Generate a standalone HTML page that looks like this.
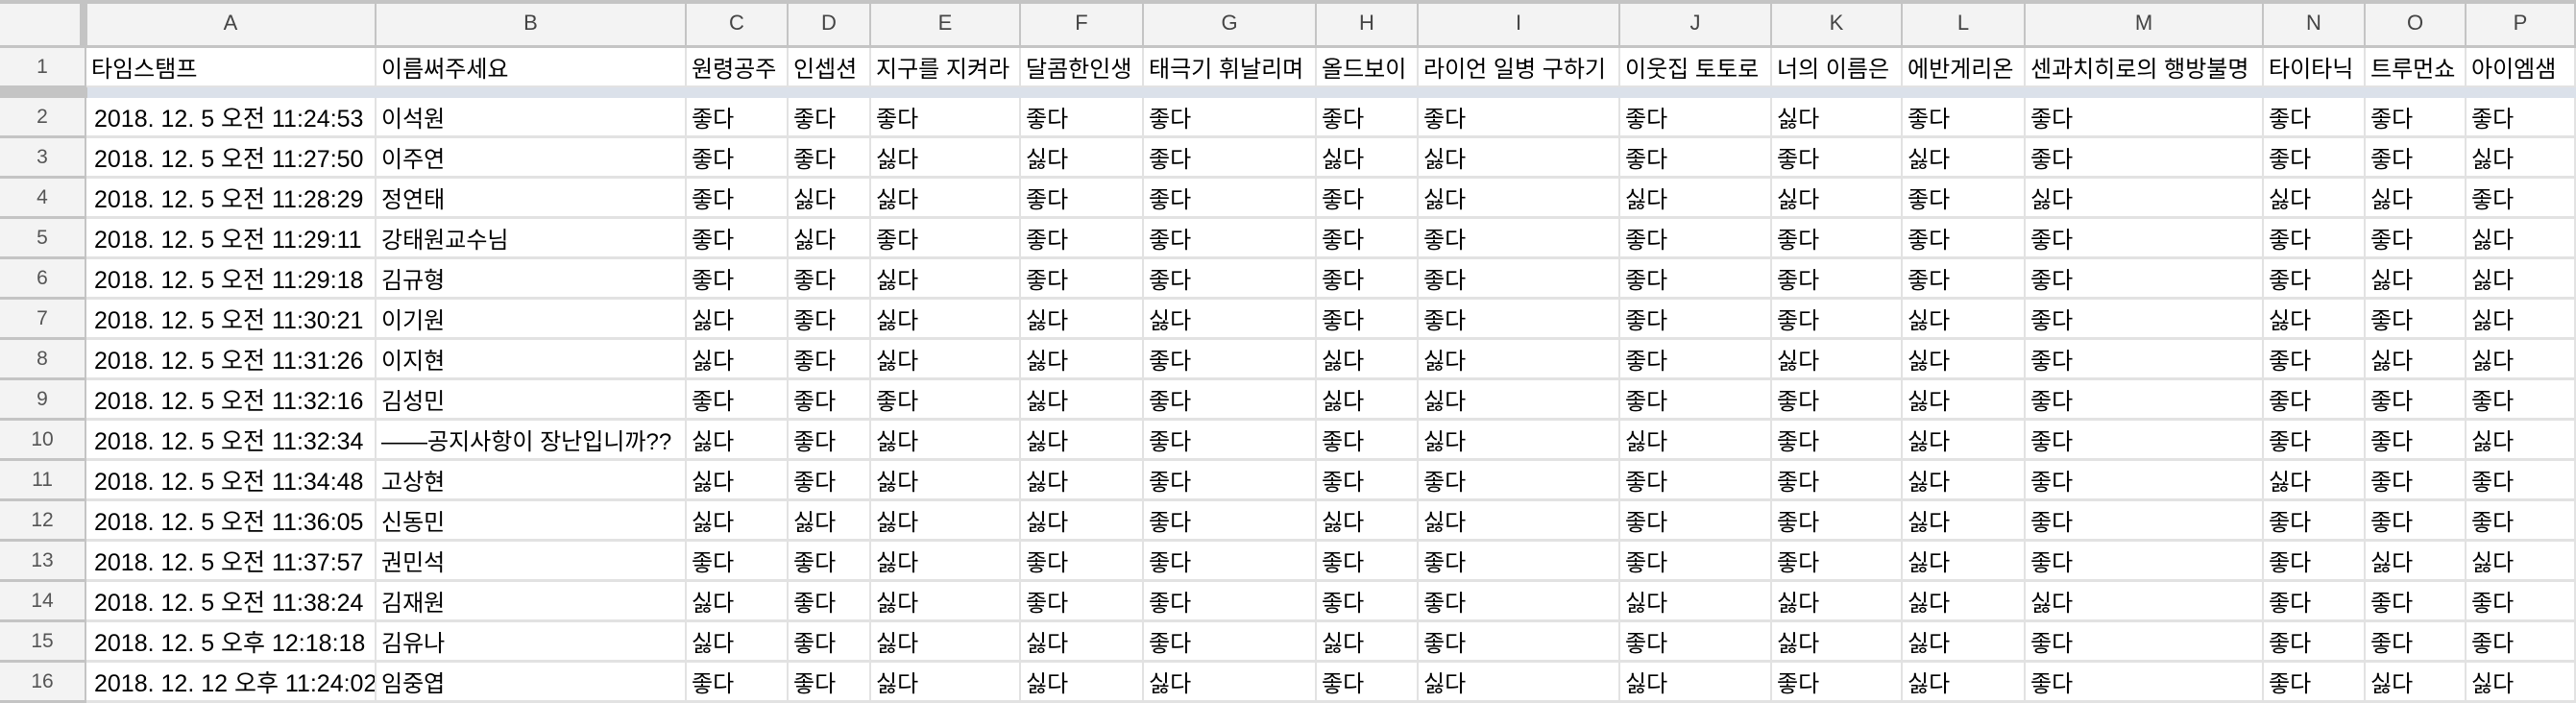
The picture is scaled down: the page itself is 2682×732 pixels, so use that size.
<!DOCTYPE html>
<html><head><meta charset="utf-8">
<style>
body{margin:0;width:2682px;height:732px;overflow:hidden;background:#fff;font-family:"Liberation Sans","Noto Sans CJK KR",sans-serif;}
#sheet{position:absolute;left:0;top:0;width:2682px;height:732px;}
.c{position:absolute;box-sizing:border-box;border-right:2px solid #e2e2e2;border-bottom:3px solid #e2e2e2;font-size:24px;color:#000;white-space:nowrap;overflow:hidden;padding:0 7px;display:flex;align-items:center;}
.h{background:#f3f3f3;color:#444;font-size:22px;justify-content:center;border-color:#c4c4c4;}
.r{background:#f3f3f3;color:#555;font-size:21px;justify-content:center;border-color:#c4c4c4;}
</style></head><body>
<div id="sheet"></div>
<script>
const colLetters=["A","B","C","D","E","F","G","H","I","J","K","L","M","N","O","P"];
const headers=["타임스탬프","이름써주세요","원령공주","인셉션","지구를 지켜라","달콤한인생","태극기 휘날리며","올드보이","라이언 일병 구하기","이웃집 토토로","너의 이름은","에반게리온","센과치히로의 행방불명","타이타닉","트루먼쇼","아이엠샘"];
const times=["2018. 12. 5 오전 11:24:53","2018. 12. 5 오전 11:27:50","2018. 12. 5 오전 11:28:29","2018. 12. 5 오전 11:29:11","2018. 12. 5 오전 11:29:18","2018. 12. 5 오전 11:30:21","2018. 12. 5 오전 11:31:26","2018. 12. 5 오전 11:32:16","2018. 12. 5 오전 11:32:34","2018. 12. 5 오전 11:34:48","2018. 12. 5 오전 11:36:05","2018. 12. 5 오전 11:37:57","2018. 12. 5 오전 11:38:24","2018. 12. 5 오후 12:18:18","2018. 12. 12 오후 11:24:02"];
const names=["이석원","이주연","정연태","강태원교수님","김규형","이기원","이지현","김성민","——공지사항이 장난입니까??","고상현","신동민","권민석","김재원","김유나","임중엽"];
// 1 = 좋다, 0 = 싫다 ; one string per column C..P, rows 2..16
const votes=[
"111110010001001","110011111101111","100100010000000","101110000001100","111110111111110",
"101111001101101","100111000101110","110111110111010","010111011111001","101110000000000",
"110111111111011","110110111011111","110101011110110","101000010110110"];
const colEdges=[0,90,392,715,821,907,1063,1191,1371,1477,1687,1845,1981,2109,2357,2463,2568,2682];
const sheet=document.getElementById('sheet');
function cell(x,y,w,h,txt,cls,align){
  const d=document.createElement('div');
  d.className='c '+(cls||'');
  d.style.left=x+'px';d.style.top=y+'px';d.style.width=w+'px';d.style.height=h+'px';
  if(align)d.style.justifyContent=align;
  d.textContent=txt;
  sheet.appendChild(d);return d;
}
const tb=document.createElement('div');


tb.style.cssText='position:absolute;left:0;top:0;width:2682px;height:4px;background:#c4c4c4;z-index:2';
sheet.appendChild(tb);
const corner=cell(0,0,90,50,'','h');


const vb=document.createElement('div');


vb.style.cssText='position:absolute;left:83px;top:0;width:8px;height:50px;background:#c4c4c4;z-index:2';
sheet.appendChild(vb);
for(let i=0;i<16;i++){
  const x=colEdges[i+1],w=colEdges[i+2]-colEdges[i+1];
  const hd=cell(x,0,w,50,colLetters[i],'h');
  
  
}
const r1=cell(0,50,90,42,'1','r');


for(let i=0;i<16;i++){
  const x=colEdges[i+1],w=colEdges[i+2]-colEdges[i+1];
  const c=cell(x,50,w,42,headers[i],'','flex-start');
  c.style.padding='0 5px';
  
  
}
const band=document.createElement('div');


band.style.cssText='position:absolute;left:0;top:91px;width:2682px;height:11px;background:#dbe1ea;';
sheet.appendChild(band);
const band2=document.createElement('div');


band2.style.cssText='position:absolute;left:0;top:91px;width:91px;height:11px;background:#c4c4c4;';
sheet.appendChild(band2);
for(let r=0;r<15;r++){
  const y=102+r*42;
  const rh=cell(0,y,90,42,String(r+2),'r');
  
  
  const ta=cell(colEdges[1],y,colEdges[2]-colEdges[1],42,times[r],'','flex-start');
  ta.style.padding='0 4px 0 8px';
  ta.style.fontSize='25px';
  
  
  const nb=cell(colEdges[2],y,colEdges[3]-colEdges[2],42,names[r],'','flex-start');
  nb.style.padding='0 5px';
  
  
  for(let c=0;c<14;c++){
    const x=colEdges[c+3],w=colEdges[c+4]-colEdges[c+3];
    const v=votes[c][r]==='1'?'좋다':'싫다';
    const vc=cell(x,y,w,42,v,'','flex-start');
    vc.style.padding='0 5px';
    
    
  }
}
</script>
</body></html>
